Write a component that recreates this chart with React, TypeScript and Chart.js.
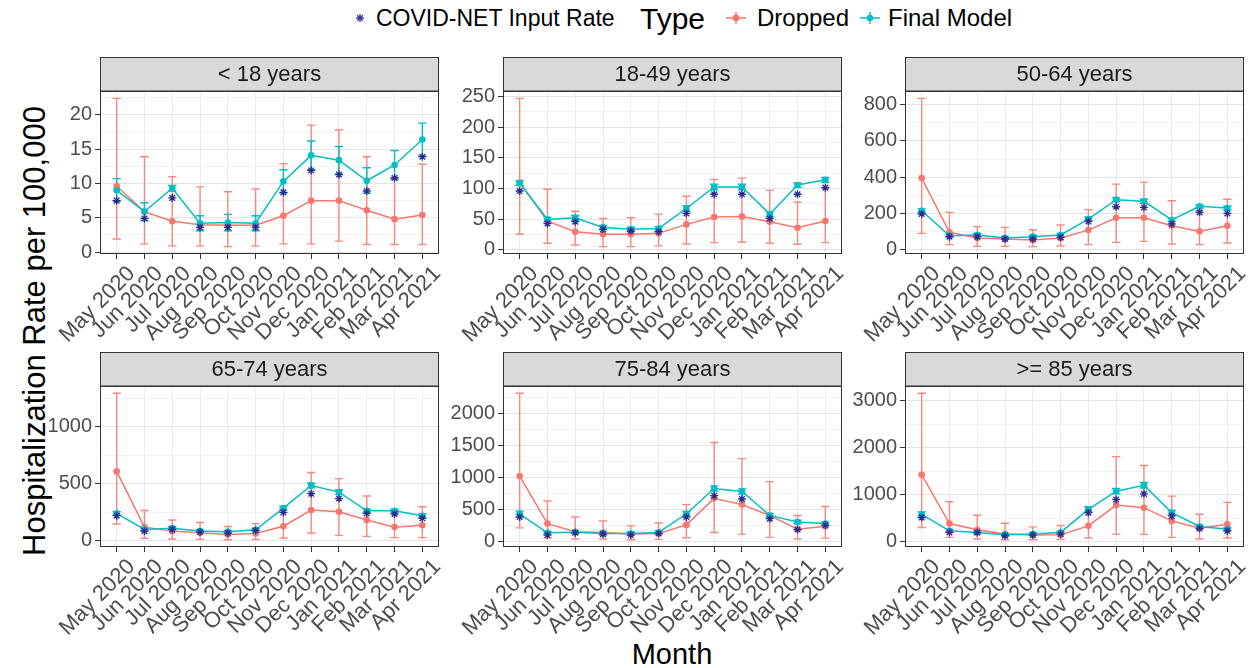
import React, { useEffect, useRef } from 'react';
import { Chart, registerables } from 'chart.js';

Chart.register(...registerables);

// ---------------- DATA ----------------
const months = ['May 2020', 'Jun 2020', 'Jul 2020', 'Aug 2020', 'Sep 2020', 'Oct 2020', 'Nov 2020', 'Dec 2020', 'Jan 2021', 'Feb 2021', 'Mar 2021', 'Apr 2021'];
const panelTitles = ['< 18 years', '18-49 years', '50-64 years', '65-74 years', '75-84 years', '>= 85 years'];
const majorSteps = [5, 50, 200, 500, 500, 1000];

// < 18 years
const u18Dropped = [9.6, 5.9, 4.5, 4.0, 3.9, 3.9, 5.3, 7.5, 7.5, 6.1, 4.8, 5.4];
const u18DroppedLo = [1.9, 1.2, 0.9, 0.9, 0.8, 0.9, 1.2, 1.2, 1.6, 1.1, 1.1, 1.1];
const u18DroppedHi = [22.4, 13.9, 11.0, 9.5, 8.8, 9.2, 12.9, 18.5, 17.8, 13.9, 10.9, 12.8];
const u18Final = [9.0, 5.9, 9.3, 4.2, 4.3, 4.2, 10.3, 14.1, 13.4, 10.4, 12.7, 16.4];
const u18FinalLo = [7.4, 4.6, 8.9, 3.1, 3.1, 3.1, 8.6, 12.0, 11.4, 8.6, 10.6, 14.0];
const u18FinalHi = [10.7, 7.2, 9.7, 5.3, 5.5, 5.3, 12.0, 16.2, 15.4, 12.3, 14.8, 18.8];
const u18Input = [7.5, 4.9, 7.9, 3.6, 3.6, 3.6, 8.7, 11.9, 11.3, 8.9, 10.8, 13.9];

// 18-49 years
const a1849Dropped = [110, 47, 29.7, 25.4, 25.4, 27, 41.6, 53.5, 54.5, 45.9, 36.2, 47];
const a1849DroppedLo = [25.4, 10.8, 8.1, 5.4, 5.4, 6.5, 9.7, 11.9, 13, 10.8, 9.2, 11.9];
const a1849DroppedHi = [247, 98.8, 63, 51.3, 52.4, 58.3, 87.4, 115, 117, 97, 78, 101];
const a1849Final = [109, 49.7, 52.4, 36.7, 33.5, 35, 67.5, 102.6, 102.6, 58.3, 105.8, 114.5];
const a1849FinalLo = [105, 46, 48, 33, 30, 31, 63, 98, 98, 54, 102, 110];
const a1849FinalHi = [113, 53, 56, 40, 37, 38, 72, 107, 107, 62, 109, 118];
const a1849Input = [96, 43, 46, 33.5, 30.8, 29.7, 59.4, 90.7, 90.7, 51.3, 90.7, 101.5];

// 50-64 years
const a5064Dropped = [395, 96, 64, 59, 53, 64, 108, 176, 176, 132, 101, 132];
const a5064DroppedLo = [90, 28, 18, 18, 17, 20, 28, 40, 46, 31, 28, 37];
const a5064DroppedHi = [835, 206, 127, 123, 110, 136, 221, 362, 373, 270, 215, 278];
const a5064Final = [215, 77, 81, 64, 72, 81, 169, 276, 267, 164, 239, 230];
const a5064FinalLo = [205, 70, 73, 57, 64, 73, 158, 266, 256, 155, 231, 220];
const a5064FinalHi = [225, 84, 89, 71, 80, 89, 180, 286, 278, 173, 247, 240];
const a5064Input = [197, 72, 72, 59, 59, 68, 156, 237, 233, 142, 206, 200];

// 65-74 years
const a6574Dropped = [609, 121, 86, 72, 57, 66, 129, 270, 256, 184, 121, 138];
const a6574DroppedLo = [149, 23, 17, 14, 11, 14, 26, 69, 49, 40, 29, 29];
const a6574DroppedHi = [1293, 267, 184, 161, 126, 152, 285, 600, 546, 394, 264, 299];
const a6574Final = [241, 101, 112, 86, 80, 98, 287, 486, 428, 264, 264, 221];
const a6574FinalLo = [225, 90, 100, 76, 70, 87, 270, 465, 408, 248, 250, 206];
const a6574FinalHi = [257, 112, 124, 96, 90, 109, 304, 507, 448, 280, 278, 236];
const a6574Input = [221, 86, 101, 78, 69, 92, 250, 414, 371, 241, 236, 198];

// 75-84 years
const a7584Dropped = [1026, 282, 154, 144, 118, 128, 262, 677, 579, 410, 195, 241];
const a7584DroppedLo = [215, 62, 41, 41, 31, 36, 62, 144, 118, 67, 41, 56];
const a7584DroppedHi = [2318, 636, 385, 323, 246, 292, 579, 1549, 1297, 938, 410, 549];
const a7584Final = [436, 138, 149, 128, 128, 144, 436, 831, 785, 410, 308, 282];
const a7584FinalLo = [395, 118, 125, 105, 105, 120, 400, 790, 745, 380, 280, 258];
const a7584FinalHi = [477, 158, 173, 151, 151, 168, 472, 872, 825, 440, 336, 306];
const a7584Input = [385, 103, 138, 118, 103, 128, 385, 718, 667, 359, 190, 256];

// >= 85 years
const a85Dropped = [1423, 385, 252, 161, 140, 147, 336, 778, 722, 441, 287, 371];
const a85DroppedLo = [301, 91, 56, 42, 42, 49, 77, 161, 154, 91, 56, 77];
const a85DroppedHi = [3153, 848, 561, 392, 315, 343, 743, 1808, 1619, 967, 582, 834];
const a85Final = [582, 231, 196, 147, 161, 196, 687, 1072, 1198, 617, 322, 266];
const a85FinalLo = [530, 200, 168, 122, 136, 168, 635, 1015, 1140, 570, 292, 236];
const a85FinalHi = [634, 262, 224, 172, 186, 224, 739, 1129, 1256, 664, 352, 296];
const a85Input = [512, 196, 196, 126, 140, 161, 617, 897, 1016, 547, 280, 231];

type PanelData = {
  title: string;
  major: number;
  dropped: number[];
  droppedLo: number[];
  droppedHi: number[];
  final: number[];
  finalLo: number[];
  finalHi: number[];
  input: number[];
};

const panels: PanelData[] = [
  { title: panelTitles[0], major: majorSteps[0], dropped: u18Dropped, droppedLo: u18DroppedLo, droppedHi: u18DroppedHi, final: u18Final, finalLo: u18FinalLo, finalHi: u18FinalHi, input: u18Input },
  { title: panelTitles[1], major: majorSteps[1], dropped: a1849Dropped, droppedLo: a1849DroppedLo, droppedHi: a1849DroppedHi, final: a1849Final, finalLo: a1849FinalLo, finalHi: a1849FinalHi, input: a1849Input },
  { title: panelTitles[2], major: majorSteps[2], dropped: a5064Dropped, droppedLo: a5064DroppedLo, droppedHi: a5064DroppedHi, final: a5064Final, finalLo: a5064FinalLo, finalHi: a5064FinalHi, input: a5064Input },
  { title: panelTitles[3], major: majorSteps[3], dropped: a6574Dropped, droppedLo: a6574DroppedLo, droppedHi: a6574DroppedHi, final: a6574Final, finalLo: a6574FinalLo, finalHi: a6574FinalHi, input: a6574Input },
  { title: panelTitles[4], major: majorSteps[4], dropped: a7584Dropped, droppedLo: a7584DroppedLo, droppedHi: a7584DroppedHi, final: a7584Final, finalLo: a7584FinalLo, finalHi: a7584FinalHi, input: a7584Input },
  { title: panelTitles[5], major: majorSteps[5], dropped: a85Dropped, droppedLo: a85DroppedLo, droppedHi: a85DroppedHi, final: a85Final, finalLo: a85FinalLo, finalHi: a85FinalHi, input: a85Input },
];

// ---------------- STYLE / LAYOUT ----------------
const FONT = "'Liberation Sans', Arial, Helvetica, sans-serif";
const RED = '#F8766D';
const RED_BAR = 'rgba(248,118,109,0.85)';
const TEAL = '#00BFC4';
const NAVY = '#2A2A90';
const PANEL_LEFTS = [100, 503, 905];
const PANEL_W = 339;
const AXIS_W = 64;
const STRIP_H = 34;
const ROW_TOPS = [57, 352];
const PLOT_HS = [163, 161];
const XAXIS_H = 100;
const RIGHT_PAD = 6;

function isMajor(v: number, major: number) {
  const r = v / major;
  return Math.abs(r - Math.round(r)) < 1e-6;
}

function makeConfig(p: PanelData): any {
  const all = [...p.droppedLo, ...p.droppedHi, ...p.finalLo, ...p.finalHi, ...p.input, ...p.dropped, ...p.final];
  const lo = Math.min(...all);
  const hi = Math.max(...all);
  const pad = (hi - lo) * 0.05;
  const minor = p.major / 2;
  const toPts = (arr: number[]) => arr.map((y, i) => ({ x: i, y }));

  const stripPlugin = {
    id: 'strip',
    afterDraw(chart: any) {
      const { ctx, chartArea } = chart;
      ctx.save();
      ctx.fillStyle = '#D9D9D9';
      ctx.fillRect(chartArea.left, 0.5, chartArea.right - chartArea.left, chartArea.top - 0.5);
      ctx.strokeStyle = '#333333';
      ctx.lineWidth = 1;
      ctx.strokeRect(chartArea.left + 0.5, 0.5, chartArea.right - chartArea.left - 1, chartArea.top - 0.5);
      ctx.fillStyle = '#1A1A1A';
      ctx.font = `22px ${FONT}`;
      ctx.textAlign = 'center';
      ctx.textBaseline = 'middle';
      ctx.fillText(p.title, (chartArea.left + chartArea.right) / 2, chartArea.top / 2 + 1);
      // panel border
      ctx.strokeRect(chartArea.left + 0.5, chartArea.top + 0.5, chartArea.right - chartArea.left - 1, chartArea.bottom - chartArea.top - 1);
      ctx.restore();
    },
  };

  const errPlugin = {
    id: 'errbars',
    beforeDatasetsDraw(chart: any) {
      const { ctx, chartArea } = chart;
      const x = chart.scales.x;
      const y = chart.scales.y;
      ctx.save();
      ctx.beginPath();
      ctx.rect(chartArea.left, chartArea.top, chartArea.right - chartArea.left, chartArea.bottom - chartArea.top);
      ctx.clip();
      const draw = (los: number[], his: number[], color: string) => {
        ctx.strokeStyle = color;
        ctx.lineWidth = 1.4;
        for (let i = 0; i < los.length; i++) {
          const px = x.getPixelForValue(i);
          const hw = x.getPixelForValue(i + 0.15) - px;
          const y1 = y.getPixelForValue(los[i]);
          const y2 = y.getPixelForValue(his[i]);
          ctx.beginPath();
          ctx.moveTo(px, y1);
          ctx.lineTo(px, y2);
          ctx.moveTo(px - hw, y1);
          ctx.lineTo(px + hw, y1);
          ctx.moveTo(px - hw, y2);
          ctx.lineTo(px + hw, y2);
          ctx.stroke();
        }
      };
      draw(p.droppedLo, p.droppedHi, RED_BAR);
      draw(p.finalLo, p.finalHi, TEAL);
      ctx.restore();
    },
  };

  return {
    type: 'line',
    data: {
      datasets: [
        {
          label: 'COVID-NET Input Rate',
          data: toPts(p.input),
          showLine: false,
          pointStyle: 'star',
          pointRadius: 4,
          pointBorderWidth: 1.3,
          borderColor: NAVY,
          backgroundColor: NAVY,
        },
        {
          label: 'Final Model',
          data: toPts(p.final),
          borderColor: TEAL,
          backgroundColor: TEAL,
          borderWidth: 1.5,
          pointRadius: 3.3,
          pointBorderWidth: 0,
          tension: 0,
        },
        {
          label: 'Dropped',
          data: toPts(p.dropped),
          borderColor: RED,
          backgroundColor: RED,
          borderWidth: 1.5,
          pointRadius: 3.3,
          pointBorderWidth: 0,
          tension: 0,
        },
      ],
    },
    options: {
      animation: false,
      responsive: false,
      maintainAspectRatio: false,
      events: [],
      layout: { padding: { top: STRIP_H, right: RIGHT_PAD, left: 0, bottom: 0 } },
      plugins: { legend: { display: false }, tooltip: { enabled: false }, title: { display: false } },
      scales: {
        x: {
          type: 'linear',
          min: -0.6,
          max: 11.6,
          afterFit: (s: any) => {
            s.height = XAXIS_H;
          },
          afterBuildTicks: (s: any) => {
            s.ticks = months.map((_, i) => ({ value: i }));
          },
          border: { display: false },
          grid: { color: '#EBEBEB', lineWidth: 1, tickColor: '#333333', tickLength: 5 },
          ticks: {
            autoSkip: false,
            minRotation: 45,
            maxRotation: 45,
            padding: 2,
            labelOffset: 15,
            color: '#4D4D4D',
            font: { family: FONT, size: 22 },
            callback: (v: number) => (months[Math.round(v)] ?? ''),
          },
        },
        y: {
          type: 'linear',
          min: lo - pad,
          max: hi + pad,
          afterFit: (s: any) => {
            s.width = AXIS_W;
          },
          afterBuildTicks: (s: any) => {
            const ticks: { value: number }[] = [];
            for (let k = Math.ceil(s.min / minor); k * minor <= s.max; k++) ticks.push({ value: k * minor });
            s.ticks = ticks;
          },
          border: { display: false },
          grid: {
            color: (c: any) => (c.tick && isMajor(c.tick.value, p.major) ? '#E4E4E4' : '#F2F2F2'),
            lineWidth: 1,
            tickColor: (c: any) => (c.tick && isMajor(c.tick.value, p.major) ? '#333333' : 'rgba(0,0,0,0)'),
            tickLength: 5,
          },
          ticks: {
            autoSkip: false,
            padding: 3,
            color: '#4D4D4D',
            font: { family: FONT, size: 20 },
            callback: (v: number) => (isMajor(v, p.major) ? String(Math.round(v)) : ''),
          },
        },
      },
    },
    plugins: [errPlugin, stripPlugin],
  };
}

function Panel({ p, left, top, plotH }: { p: PanelData; left: number; top: number; plotH: number }) {
  const ref = useRef<HTMLCanvasElement>(null);
  const w = AXIS_W + PANEL_W + RIGHT_PAD;
  const h = STRIP_H + plotH + XAXIS_H;
  useEffect(() => {
    const chart = new Chart(ref.current as HTMLCanvasElement, makeConfig(p));
    return () => chart.destroy();
  }, [p]);
  return (
    <canvas
      ref={ref}
      width={w}
      height={h}
      style={{ position: 'absolute', left: left - AXIS_W, top, width: w, height: h }}
    />
  );
}

function Legend() {
  const txt: React.CSSProperties = { position: 'absolute', fontFamily: FONT, fontSize: 23, lineHeight: '26px', color: '#000', whiteSpace: 'nowrap' };
  return (
    <>
      <svg style={{ position: 'absolute', left: 350, top: 8 }} width={20} height={20}>
        <g stroke={NAVY} strokeWidth={1.3}>
          <line x1={10} y1={6} x2={10} y2={14} />
          <line x1={6} y1={10} x2={14} y2={10} />
          <line x1={7.2} y1={7.2} x2={12.8} y2={12.8} />
          <line x1={7.2} y1={12.8} x2={12.8} y2={7.2} />
        </g>
      </svg>
      <span style={{ ...txt, left: 376, top: 5 }}>COVID-NET Input Rate</span>
      <span style={{ ...txt, left: 640, top: 3, fontSize: 30, lineHeight: '32px' }}>Type</span>
      <svg style={{ position: 'absolute', left: 724, top: 7 }} width={24} height={22}>
        <line x1={2} y1={11} x2={22} y2={11} stroke={RED} strokeWidth={1.5} />
        <line x1={12} y1={5} x2={12} y2={17} stroke={RED} strokeWidth={1.4} />
        <circle cx={12} cy={11} r={3.3} fill={RED} />
      </svg>
      <span style={{ ...txt, left: 757, top: 5, fontSize: 24 }}>Dropped</span>
      <svg style={{ position: 'absolute', left: 858, top: 7 }} width={24} height={22}>
        <line x1={2} y1={11} x2={22} y2={11} stroke={TEAL} strokeWidth={1.5} />
        <line x1={12} y1={5} x2={12} y2={17} stroke={TEAL} strokeWidth={1.4} />
        <circle cx={12} cy={11} r={3.3} fill={TEAL} />
      </svg>
      <span style={{ ...txt, left: 888, top: 5, fontSize: 24 }}>Final Model</span>
    </>
  );
}

export default function App() {
  return (
    <div style={{ position: 'absolute', left: 0, top: 0, width: 1252, height: 668, background: '#fff', overflow: 'hidden' }}>
      <Legend />
      <div
        style={{
          position: 'absolute',
          left: 35,
          top: 331,
          transform: 'translate(-50%, -50%) rotate(-90deg)',
          fontFamily: FONT,
          fontSize: 31,
          color: '#000',
          whiteSpace: 'nowrap',
        }}
      >
        Hospitalization Rate per 100,000
      </div>
      <div
        style={{
          position: 'absolute',
          left: 672,
          top: 654,
          transform: 'translate(-50%, -50%)',
          fontFamily: FONT,
          fontSize: 29,
          color: '#000',
          whiteSpace: 'nowrap',
        }}
      >
        Month
      </div>
      {panels.map((p, i) => {
        const row = Math.floor(i / 3);
        const col = i % 3;
        return <Panel key={i} p={p} left={PANEL_LEFTS[col]} top={ROW_TOPS[row]} plotH={PLOT_HS[row]} />;
      })}
    </div>
  );
}
